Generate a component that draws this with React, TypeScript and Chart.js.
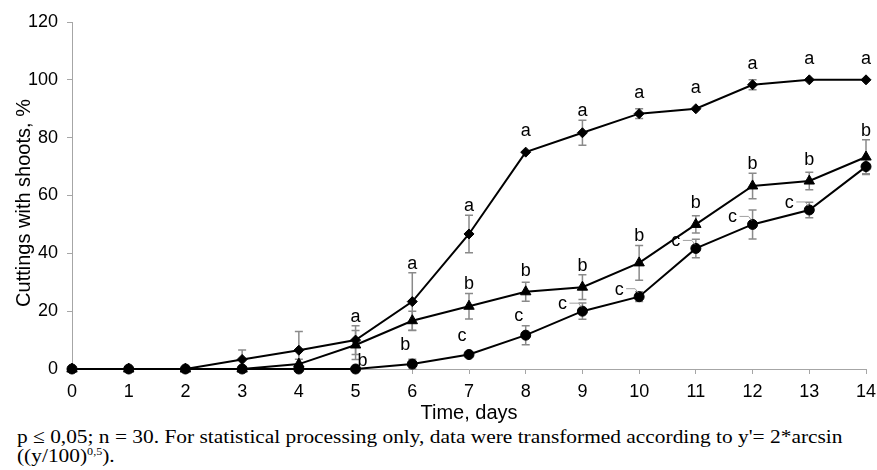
import React, { useEffect, useRef } from 'react';
import { Chart, registerables } from 'chart.js';

Chart.register(...registerables);

// ---- Data ----
const days = [0, 1, 2, 3, 4, 5, 6, 7, 8, 9, 10, 11, 12, 13, 14];
const yTickValues = [0, 20, 40, 60, 80, 100, 120];

const diamondValues = [0, 0, 0, 3.3, 6.5, 10, 23.3, 46.7, 75, 81.7, 88.3, 90, 98.3, 100, 100];
const triangleValues = [0, 0, 0, 0, 1.7, 8.3, 16.7, 21.7, 26.7, 28.3, 36.7, 50, 63.3, 65, 73.3];
const circleValues = [0, 0, 0, 0, 0, 0, 1.7, 5, 11.7, 20, 25, 41.7, 50, 55, 70];

const diamondErrors = [0, 0, 0, 3.3, 6.5, 5, 10, 6.5, 0, 4.3, 1.7, 0, 1.7, 0, 0];
const triangleErrors = [0, 0, 0, 0, 1.7, 5, 3.3, 4.4, 3.3, 4.3, 6, 3, 4.4, 3, 6];
const circleErrors = [0, 0, 0, 0, 0, 0, 1.7, 0, 3.3, 2.8, 1.7, 3.2, 5, 2.7, 2.5];

const diamondLetters = ['', '', '', '', '', 'a', 'a', 'a', 'a', 'a', 'a', 'a', 'a', 'a', 'a'];
const triangleLetters = ['', '', '', '', '', '', '', 'b', 'b', 'b', 'b', 'b', 'b', 'b', 'b'];
const circleLetters = ['', '', '', '', '', 'b', 'b', 'c', 'c', 'c', 'c', 'c', 'c', 'c', ''];

const diamondPlacement = days.map(() => 'above');
const trianglePlacement = days.map(() => 'above');
const circlePlacement = ['', '', '', '', '', 'right', 'aboveLeft', 'aboveLeft', 'aboveLeft', 'left', 'left', 'left', 'left', 'left', ''];

const yTitle = 'Cuttings with shoots, %';
const xTitle = 'Time, days';

const FONT = '"Liberation Sans", Arial, sans-serif';

const seriesList = [
  { values: diamondValues, errors: diamondErrors, letters: diamondLetters, placement: diamondPlacement, style: 'rectRot', radius: 5 },
  { values: triangleValues, errors: triangleErrors, letters: triangleLetters, placement: trianglePlacement, style: 'triangle', radius: 6 },
  { values: circleValues, errors: circleErrors, letters: circleLetters, placement: circlePlacement, style: 'circle', radius: 5 },
];

const errorBarPlugin = {
  id: 'errorBars',
  beforeDatasetsDraw(chart: any) {
    const { ctx, scales } = chart;
    const xs = scales.x;
    const ys = scales.y;
    ctx.save();
    ctx.strokeStyle = '#8a8a8a';
    ctx.lineWidth = 1.5;
    seriesList.forEach((s) => {
      s.values.forEach((v, i) => {
        const e = s.errors[i];
        if (!e) return;
        const x = xs.getPixelForValue(days[i]);
        const yTop = ys.getPixelForValue(v + e);
        const yBot = ys.getPixelForValue(Math.max(0, v - e));
        ctx.beginPath();
        ctx.moveTo(x, yTop);
        ctx.lineTo(x, yBot);
        ctx.moveTo(x - 4, yTop);
        ctx.lineTo(x + 4, yTop);
        ctx.moveTo(x - 4, yBot);
        ctx.lineTo(x + 4, yBot);
        ctx.stroke();
      });
    });
    ctx.restore();
  },
};

const letterPlugin = {
  id: 'letters',
  afterDatasetsDraw(chart: any) {
    const { ctx, scales } = chart;
    const xs = scales.x;
    const ys = scales.y;
    ctx.save();
    ctx.font = `18px ${FONT}`;
    ctx.textAlign = 'center';
    ctx.textBaseline = 'middle';
    seriesList.forEach((s) => {
      s.letters.forEach((t, i) => {
        if (!t) return;
        const v = s.values[i];
        const e = s.errors[i];
        const px = xs.getPixelForValue(days[i]);
        const py = ys.getPixelForValue(v);
        const errTop = ys.getPixelForValue(v + e);
        const p = s.placement[i];
        let lx = px;
        let ly = py;
        if (p === 'above') {
          ly = Math.min(py - 21, errTop - 9);
        } else if (p === 'aboveLeft') {
          lx = px - 7;
          ly = Math.min(py - 19, errTop - 9);
        } else if (p === 'right') {
          lx = px + 7;
          ly = py - 8;
        } else if (p === 'left') {
          lx = px - 20;
          ly = py - 7;
          ctx.save();
          ctx.strokeStyle = '#a0a0a0';
          ctx.lineWidth = 1;
          ctx.beginPath();
          ctx.moveTo(lx + 7, ly - 1);
          ctx.lineTo(lx + 16, ly - 1);
          ctx.lineTo(lx + 19, ly + 3);
          ctx.stroke();
          ctx.restore();
        }
        ctx.fillStyle = '#000';
        ctx.fillText(t, lx, ly);
      });
    });
    ctx.restore();
  },
};

const yTitlePlugin = {
  id: 'yTitle',
  afterDraw(chart: any) {
    const { ctx } = chart;
    ctx.save();
    ctx.translate(24, 203);
    ctx.rotate(-Math.PI / 2);
    ctx.font = `20px ${FONT}`;
    ctx.fillStyle = '#000';
    ctx.textAlign = 'center';
    ctx.textBaseline = 'middle';
    ctx.fillText(yTitle, 0, 0);
    ctx.restore();
  },
};

export default function App() {
  const canvasRef = useRef<HTMLCanvasElement | null>(null);

  useEffect(() => {
    if (!canvasRef.current) return;
    const chart = new Chart(canvasRef.current, {
      type: 'line',
      data: {
        datasets: seriesList.map((s) => ({
          data: s.values.map((v, i) => ({ x: days[i], y: v })),
          borderColor: '#000',
          backgroundColor: '#000',
          borderWidth: 2,
          pointStyle: s.style as any,
          pointRadius: s.radius,
          pointBackgroundColor: '#000',
          pointBorderColor: '#000',
          pointBorderWidth: 1,
          tension: 0,
          clip: false as any,
        })),
      },
      options: {
        responsive: false,
        animation: false,
        events: [],
        layout: { padding: { top: 22, right: 11, left: 0, bottom: 0 } },
        plugins: {
          legend: { display: false },
          tooltip: { enabled: false },
        },
        scales: {
          x: {
            type: 'linear',
            min: 0,
            max: 14,
            afterFit: (scale: any) => {
              scale.height = 56;
              scale.paddingRight = 0;
              scale.paddingLeft = 0;
            },
            afterBuildTicks: (scale: any) => { scale.ticks = days.map((d) => ({ value: d })); },
            ticks: { color: '#000', font: { size: 18, family: FONT }, padding: 7, maxRotation: 0, autoSkip: false },
            grid: { drawOnChartArea: false, drawTicks: true, tickLength: 5, color: '#a6a6a6' },
            border: { display: true, color: '#a6a6a6', width: 1 },
            title: { display: true, text: xTitle, color: '#000', font: { size: 20, family: FONT }, padding: { top: 0, bottom: 0 } },
          },
          y: {
            type: 'linear',
            min: 0,
            max: 120,
            afterFit: (scale: any) => { scale.width = 72; },
            afterBuildTicks: (scale: any) => { scale.ticks = yTickValues.map((d) => ({ value: d })); },
            ticks: { color: '#000', font: { size: 18, family: FONT }, padding: 9 },
            grid: { drawOnChartArea: false, drawTicks: true, tickLength: 5, color: '#a6a6a6' },
            border: { display: true, color: '#a6a6a6', width: 1 },
            title: { display: false },
          },
        },
      },
      plugins: [errorBarPlugin, letterPlugin, yTitlePlugin],
    });
    return () => chart.destroy();
  }, []);

  return (
    <div style={{ position: 'fixed', left: 0, top: 0, width: 877, height: 470, background: '#fff' }}>
      <canvas ref={canvasRef} width={877} height={425} style={{ position: 'absolute', left: 0, top: 0, width: 877, height: 425 }} />
      <div
        style={{
          position: 'absolute',
          left: 17,
          top: 427,
          fontFamily: '"Liberation Serif", "Times New Roman", serif',
          fontSize: 19.5,
          lineHeight: '19px',
          color: '#000',
          whiteSpace: 'nowrap',
          transform: 'scaleX(1.097)',
          transformOrigin: '0 0',
        }}
      >
        p ≤ 0,05; n = 30. For statistical processing only, data were transformed according to y'= 2*arcsin
        <br />
        ((y/100)<sup style={{ fontSize: 11, verticalAlign: 'baseline', position: 'relative', top: -7 }}>0,5</sup>).
      </div>
    </div>
  );
}
